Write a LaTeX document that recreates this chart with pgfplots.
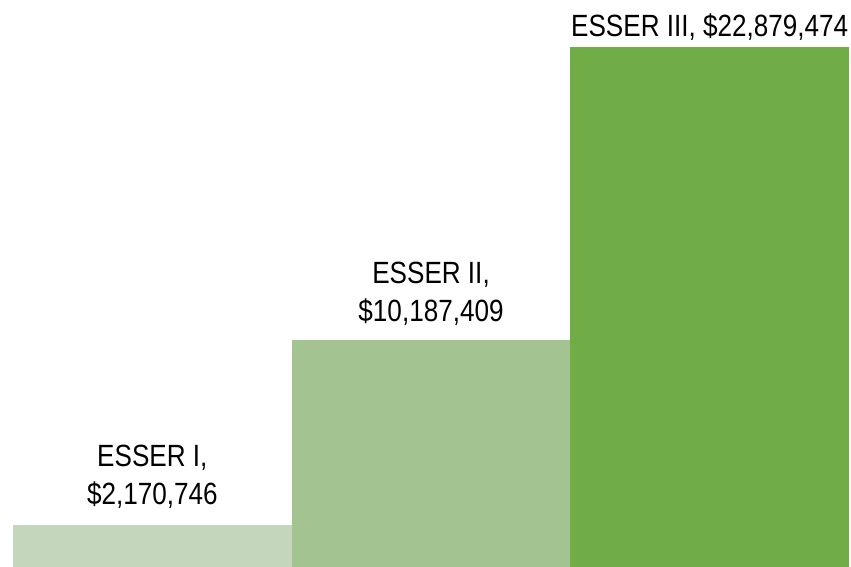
\documentclass[border=0pt]{standalone}
\usepackage{fontspec}
\setmainfont{Liberation Sans}[FakeStretch=0.85]
\usepackage{pgfplots}
\pgfplotsset{compat=1.18}
\definecolor{gA}{RGB}{196,215,188}
\definecolor{gB}{RGB}{163,196,145}
\definecolor{gC}{RGB}{112,173,71}
\begin{document}
\begin{tikzpicture}
\begin{axis}[
  scale only axis, width=425.5pt, height=283.5pt,
  xmin=-0.5467, xmax=2.507, ymin=0.35, ymax=24.91,
  hide axis, clip=true,
  ybar, bar width=1, bar shift=0pt,
  every node near coord/.append style={align=center, anchor=south, inner sep=0pt,
     font=\fontsize{15.35}{19}\selectfont, text=black},
]
\addplot[fill=gA, draw=none, nodes near coords={ESSER I,\\\$2,170,746},
  every node near coord/.append style={yshift=8pt}] coordinates {(0,2.170746)};
\addplot[fill=gB, draw=none, nodes near coords={ESSER II,\\\$10,187,409},
  every node near coord/.append style={yshift=7pt}] coordinates {(1,10.187409)};
\addplot[fill=gC, draw=none, nodes near coords={ESSER III, \$22,879,474},
  every node near coord/.append style={yshift=3pt}] coordinates {(2,22.879474)};
\end{axis}
\path (current axis.south west) rectangle (current axis.north east);
\end{tikzpicture}
\end{document}
